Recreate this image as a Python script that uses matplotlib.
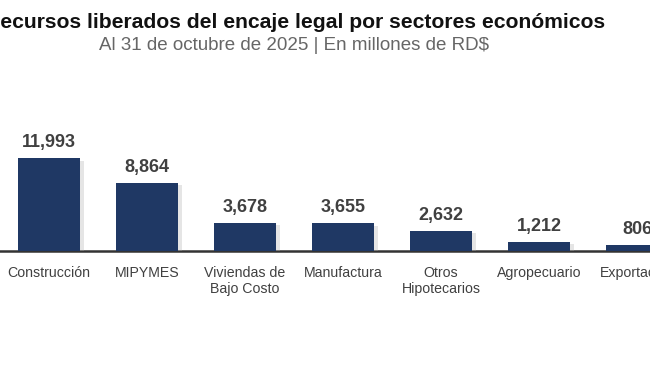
import matplotlib.pyplot as plt
import matplotlib.patheffects as pe

# data
sectores = ["Construcción", "MIPYMES", "Viviendas de\nBajo Costo", "Manufactura",
            "Otros\nHipotecarios", "Agropecuario", "Exportación"]
montos = [11993, 8864, 3678, 3655, 2632, 1212, 806]

plt.rcParams['font.family'] = ['Liberation Sans', 'DejaVu Sans']

fig = plt.figure(figsize=(6.5, 3.66), dpi=100)
fig.patch.set_facecolor('white')

# axes wider than the figure: the original image is cropped on both sides
ax = fig.add_axes([0.0, 0.314, 686 / 650, 0.522])
x = list(range(len(montos)))
bars = ax.bar(x, montos, width=0.63, color='#1F3864', zorder=3)
for b in bars:
    b.set_path_effects([pe.SimplePatchShadow(offset=(3, -2), shadow_rgbFace='#aaaaaa', alpha=0.3),
                        pe.Normal()])

for xi, v in zip(x, montos):
    ax.text(xi, v + 900, f"{v:,}", ha='center', va='bottom', fontsize=13,
            fontweight='bold', color='#404040', clip_on=False)

ax.set_xlim(-0.5, 6.5)
ax.set_ylim(0, 24700)
ax.set_xticks(x)
ax.set_xticklabels(sectores, fontsize=10.2, color='#404040', linespacing=1.15)
ax.tick_params(axis='x', length=0, pad=11)
ax.set_yticks([])
for s in ['top', 'right', 'left']:
    ax.spines[s].set_visible(False)
ax.spines['bottom'].set_color('#333333')
ax.spines['bottom'].set_linewidth(1.8)

fig.text(295 / 650, 1 - 23 / 366, "Recursos liberados del encaje legal por sectores económicos",
         ha='center', va='center', fontsize=15.2, fontweight='bold', color='#111111')
fig.text(294 / 650, 1 - 46 / 366, "Al 31 de octubre de 2025 | En millones de RD$",
         ha='center', va='center', fontsize=13.5, color='#666666')

fig.savefig('out.png', dpi=100, facecolor='white')
